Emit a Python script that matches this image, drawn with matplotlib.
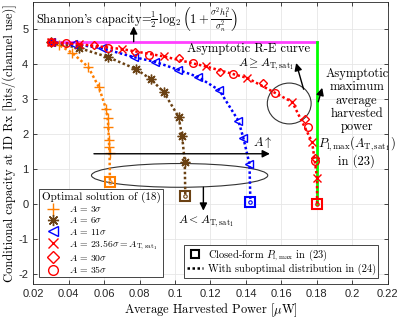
import numpy as np
import matplotlib.pyplot as plt
from matplotlib.patches import Ellipse
from matplotlib.lines import Line2D
from matplotlib.ticker import FuncFormatter

plt.rcParams['font.family'] = 'serif'
plt.rcParams['font.serif'] = ['cmr10']
plt.rcParams['mathtext.fontset'] = 'cm'
plt.rcParams['axes.unicode_minus'] = False
plt.rcParams['axes.formatter.use_mathtext'] = True

# values
# A = 3 sigma
p_a3 = [0.0300, 0.0345, 0.0420, 0.0510, 0.0570, 0.0612, 0.0620, 0.0624, 0.0627, 0.0629, 0.0631]
c_a3 = [4.62, 4.55, 4.32, 3.92, 3.35, 2.70, 2.45, 2.20, 1.82, 1.63, 1.45]
end_a3 = (0.0633, 0.63)

# A = 6 sigma
p_a6 = [0.0300, 0.0459, 0.0622, 0.0779, 0.0863, 0.0936, 0.1020, 0.1040, 0.1055]
c_a6 = [4.62, 4.46, 4.20, 3.86, 3.57, 3.20, 2.49, 1.94, 1.20]
end_a6 = (0.1058, 0.22)

# A = 11 sigma
p_a11 = [0.0300, 0.0425, 0.0590, 0.0767, 0.0890, 0.1015, 0.1130, 0.1250, 0.1357, 0.1385, 0.1420]
c_a11 = [4.62, 4.58, 4.45, 4.20, 4.06, 3.84, 3.63, 3.25, 2.38, 1.89, 1.14]
end_a11 = (0.1425, 0.06)

# A = 23.56 sigma, 30 sigma, 35 sigma (all on the asymptotic curve)
p_a23 = [0.0300, 0.0458, 0.0700, 0.0936, 0.1175, 0.1408, 0.1661, 0.1773, 0.1801]
c_a23 = [4.62, 4.57, 4.43, 4.22, 3.93, 3.60, 2.91, 1.77, 0.74]
p_a30 = [0.0300, 0.0543, 0.0775, 0.1020, 0.1256, 0.1498, 0.1734, 0.1790]
c_a30 = [4.62, 4.54, 4.35, 4.16, 3.78, 3.47, 2.43, 1.30]
p_a35 = [0.0300, 0.0385, 0.0620, 0.0852, 0.1100, 0.1329, 0.1565, 0.1751, 0.1792]
c_a35 = [4.62, 4.60, 4.47, 4.27, 4.04, 3.72, 3.17, 2.20, 1.22]
end_red = (0.1801, 0.0)

shannon_cap = 4.62
p_max_sat = 0.1801

orange = '#FF7F00'
brown = '#6B4214'
blue = '#0000FF'
red = '#FF0000'

fig = plt.figure(figsize=(3.99, 3.18), dpi=100)
ax = fig.add_axes([0.083, 0.107, 0.889, 0.887])

ls = (0, (1, 1))
lw = 1.8

def curve(p, c, end, color, marker, ms, mew=1.0):
    # dotted curve down to the closed-form point
    ax.plot(list(p) + [end[0]], list(c) + [end[1]], color=color, ls=ls, lw=lw)
    ax.plot(p, c, ls='none', marker=marker, ms=ms, mew=mew, mec=color, mfc='none')

# asymptotic bounds
ax.plot([0.0300, p_max_sat], [shannon_cap, shannon_cap], color='#FF40FF', lw=2)
ax.plot([p_max_sat, p_max_sat], [shannon_cap, 0.0], color='#00FF00', lw=2)

curve(p_a3, c_a3, end_a3, orange, '+', 7)
curve(p_a6, c_a6, end_a6, brown, (8, 2, 0), 7)
curve(p_a11, c_a11, end_a11, blue, '<', 5.5)
ax.plot(p_a23 + [end_red[0]], c_a23 + [end_red[1]], color=red, ls=ls, lw=lw)
ax.plot(p_a23, c_a23, ls='none', marker='x', ms=5.5, mew=1.0, mec=red)
ax.plot(p_a30, c_a30, ls='none', marker='D', ms=4.5, mew=1.0, mec=red, mfc='none')
ax.plot(p_a35, c_a35, ls='none', marker='o', ms=5.5, mew=1.0, mec=red, mfc='none')

# closed-form P_l,max squares
for end, color in [(end_a3, orange), (end_a6, brown), (end_a11, blue), (end_red, red)]:
    ax.plot([end[0]], [end[1]], ls='none', marker='s', ms=6.5, mew=1.5, mec=color, mfc='none')
    ax.plot([end[0]], [end[1]], ls='none', marker='o', ms=2.5, mew=0.8, mec=color, mfc='none')

# annotations
ax.text(0.0217, 5.27,
        r"Shannon's capacity=$\frac{1}{2}\,\log_2\left(1+\frac{\sigma^2 h_1^2}{\sigma_n^2}\right)$",
        fontsize=9, va='center', ha='left')
arr = dict(arrowstyle='-|>', color='k', lw=1.0, mutation_scale=11, shrinkA=0, shrinkB=0)
ax.annotate('', xy=(0.0767, 5.08), xytext=(0.0767, 4.64), arrowprops=arr)

ax.text(0.1065, 4.42, 'Asymptotic R-E curve', fontsize=9, va='center', ha='left')
ax.text(0.1515, 4.0, r'$A \geq A_{\rm T,sat_1}$', fontsize=8.5, va='center', ha='center')
ax.add_patch(Ellipse((0.1644, 2.87), 0.0247, 1.17, fill=False, ec='#333333', lw=0.8))
ax.annotate('', xy=(0.1683, 4.03), xytext=(0.1725, 3.28), arrowprops=arr)

ax.text(0.2025, 2.45,
        'Asymptotic\nmaximum\naverage\nharvested\npower\n$P_{\\rm l,max}(A_{\\rm T,sat_1})$\nin (23)',
        fontsize=9, va='center', ha='center', linespacing=1.12)
ax.annotate('', xy=(0.1830, 3.32), xytext=(0.1808, 2.92), arrowprops=arr)

ax.annotate('', xy=(0.1535, 1.43), xytext=(0.0543, 1.43), arrowprops=arr)
ax.text(0.1495, 1.74, r'$A\uparrow$', fontsize=9, va='center', ha='center')
ax.add_patch(Ellipse((0.1026, 0.81), 0.0994, 0.68, fill=False, ec='#333333', lw=0.8))
ax.annotate('', xy=(0.1160, -0.20), xytext=(0.1160, 0.47), arrowprops=arr)
ax.text(0.1175, -0.50, r'$A < A_{\rm T,sat_1}$', fontsize=8.5, va='center', ha='center')

# axes styling
ax.set_xlim(0.02, 0.22)
ax.set_ylim(-2.3, 5.78)
ax.set_xticks(np.arange(0.02, 0.2201, 0.02))
ax.set_yticks(np.arange(-2, 6, 1))
ax.xaxis.set_major_formatter(FuncFormatter(lambda v, pos: '%g' % round(v, 2)))
ax.yaxis.set_major_formatter(FuncFormatter(lambda v, pos: '%g' % v))
for lab in ax.get_xticklabels() + ax.get_yticklabels():
    lab.set_fontfamily('Liberation Sans')
    lab.set_fontsize(8)
ax.tick_params(direction='in', top=True, right=True, length=3, width=0.6, colors='#262626')
ax.grid(True, color='#E6E6E6', lw=0.6)
ax.set_axisbelow(True)
for s in ax.spines.values():
    s.set_color('#262626')
    s.set_linewidth(0.6)
ax.set_xlabel(r'Average Harvested Power [$\mu$W]', fontsize=9, labelpad=2)
ax.set_ylabel('Conditional capacity at ID Rx [bits/(channel use)]', fontsize=9, labelpad=1)

# legends
h1 = [Line2D([], [], ls='none', marker='+', ms=8, mew=1.0, color=orange),
      Line2D([], [], ls='none', marker=(8, 2, 0), ms=8, mew=1.0, color=brown),
      Line2D([], [], ls='none', marker='<', ms=7, mew=1.0, mec=blue, mfc='none'),
      Line2D([], [], ls='none', marker='x', ms=6.5, mew=1.0, color=red),
      Line2D([], [], ls='none', marker='D', ms=6, mew=1.0, mec=red, mfc='none'),
      Line2D([], [], ls='none', marker='o', ms=7, mew=1.0, mec=red, mfc='none')]
labels1 = [r'$A\,=\,3\sigma$', r'$A\,=\,6\sigma$', r'$A\,=\,11\sigma$',
           r'$A\,=\,23.56\sigma=A_{\rm T,sat_1}$', r'$A\,=\,30\sigma$', r'$A\,=\,35\sigma$']
leg1 = ax.legend(h1, labels1, title='Optimal solution of (18)', loc='lower left',
                 bbox_to_anchor=(0.004, 0.006), fontsize=7, title_fontsize=8,
                 fancybox=False, framealpha=1, edgecolor='#262626',
                 handlelength=1.6, labelspacing=0.12, borderpad=0.25, handletextpad=0.9)
leg1.get_frame().set_linewidth(0.6)
ax.add_artist(leg1)

h2 = [Line2D([], [], ls='none', marker='s', ms=6, mew=1.5, mec='k', mfc='none'),
      Line2D([], [], ls=ls, lw=1.8, color='k')]
labels2 = [r'Closed-form $P_{\rm l,max}$ in (23)', 'With suboptimal distribution in (24)']
leg2 = ax.legend(h2, labels2, loc='lower right', bbox_to_anchor=(0.988, 0.004), fontsize=7.5,
                 fancybox=False, framealpha=1, edgecolor='#262626',
                 handlelength=1.6, labelspacing=0.1, borderpad=0.25, handletextpad=0.4)
leg2.get_frame().set_linewidth(0.6)

fig.savefig('out.png', dpi=100)
